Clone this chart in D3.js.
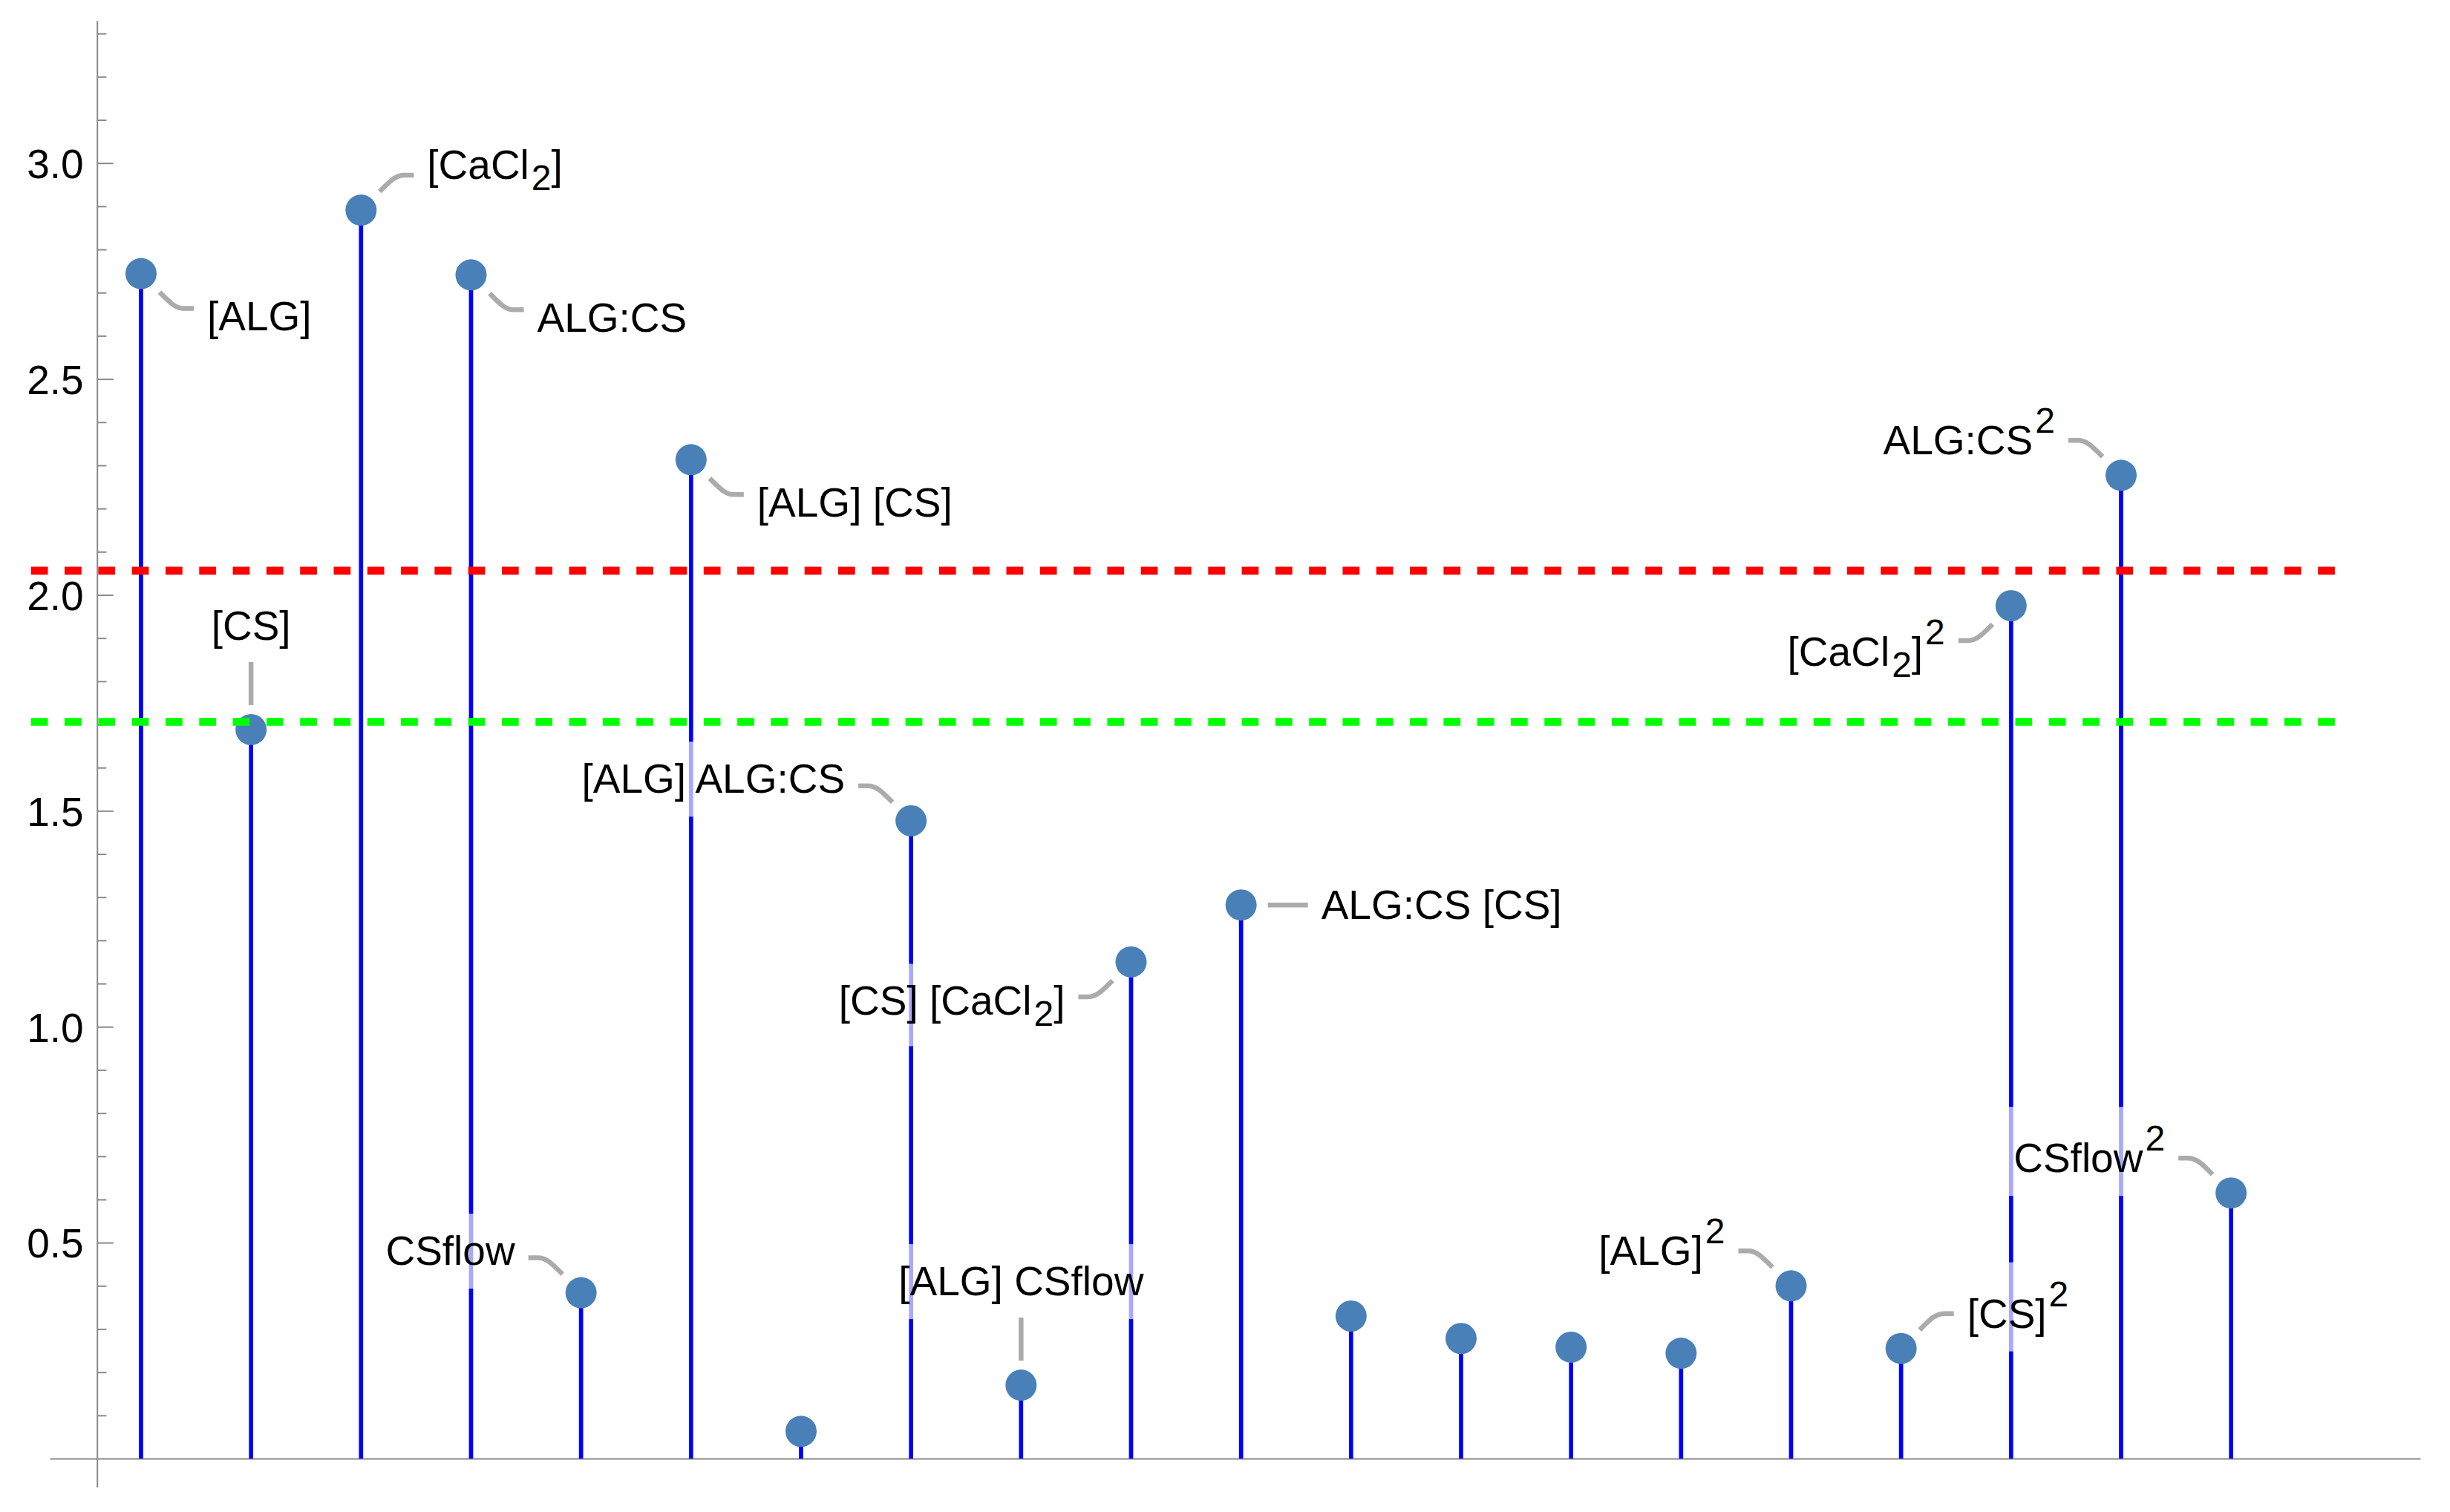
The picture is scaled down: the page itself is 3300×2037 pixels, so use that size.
<!DOCTYPE html>
<html>
<head>
<meta charset="utf-8">
<script src="https://cdn.jsdelivr.net/npm/d3@7"></script>
<style>
  body { margin: 0; background: #fff; }
  text { font-family: "Liberation Sans", Arial, sans-serif; }
</style>
</head>
<body>
<div id="chart"></div>
<script>
// model terms (_x = subscript, ^x = superscript), empty = no callout
var terms = ["[ALG]", "[CS]", "[CaCl_2]", "ALG:CS", "CSflow", "[ALG] [CS]", "",
  "[ALG] ALG:CS", "[ALG] CSflow", "[CS] [CaCl_2]", "ALG:CS [CS]", "", "", "", "",
  "[ALG]^2", "[CS]^2", "[CaCl_2]^2", "ALG:CS^2", "CSflow^2"];

var effects = [2.744, 1.688, 2.891, 2.741, 0.384, 2.313, 0.063, 1.477, 0.170, 1.150,
  1.282, 0.330, 0.278, 0.258, 0.244, 0.400, 0.255, 1.975, 2.277, 0.615];

// where each callout sits around its point
var calloutSide = ["se", "n", "ne", "se", "nw", "se", null, "nw", "n", "sw", "e",
  null, null, null, null, "nw", "ne", "sw", "nw", "nw"];

var criticalValues = [2.056, 1.706];
var criticalColors = ["#ff0000", "#00ff00"];

var yMajorTicks = [0.5, 1.0, 1.5, 2.0, 2.5, 3.0];
var yMinorTicks = d3.range(1, 34).map(function(d) { return d / 10; })
  .filter(function(d) { return yMajorTicks.indexOf(d) < 0; });

(function() {
  var width = 3300, height = 2037;

  var svg = d3.select("#chart")
    .append("svg")
    .attr("width", width)
    .attr("height", height)
    .style("background-color", "#fff");

  var x = d3.scaleLinear().domain([0.17, 21.72]).range([67, 3260]);
  var y = d3.scaleLinear().domain([-0.066, 3.33]).range([2003.4, 27.7]);

  var fontSize = 55;

  // axes
  var yAxis = svg.append("g")
    .attr("class", "axis y-axis")
    .attr("transform", "translate(" + x(0.6) + ",0)")
    .call(d3.axisLeft(y)
      .tickValues(yMajorTicks)
      .tickSizeInner(-22)
      .tickSizeOuter(0)
      .tickPadding(18)
      .tickFormat(d3.format(".1f")));
  yAxis.attr("font-size", fontSize).attr("font-family", null);
  yAxis.selectAll("text").attr("fill", "#000").attr("dy", "0.36em");

  var yMinor = svg.append("g")
    .attr("transform", "translate(" + x(0.6) + ",0)")
    .call(d3.axisLeft(y)
      .tickValues(yMinorTicks)
      .tickSizeInner(-12.7)
      .tickSizeOuter(0)
      .tickFormat(""));
  yMinor.select(".domain").remove();

  var xAxis = svg.append("g")
    .attr("class", "axis x-axis")
    .attr("transform", "translate(0," + y(0) + ")")
    .call(d3.axisBottom(x).tickValues([]).tickSizeOuter(0));

  svg.selectAll(".domain, .tick line")
    .attr("stroke", "#8a8a8a")
    .attr("stroke-width", 2);

  // stems
  svg.append("g")
    .selectAll("line")
    .data(effects)
    .enter()
    .append("line")
    .attr("x1", function(d, i) { return x(i + 1); })
    .attr("x2", function(d, i) { return x(i + 1); })
    .attr("y1", y(0))
    .attr("y2", function(d) { return y(d); })
    .attr("stroke", "#0000ff")
    .attr("stroke-width", 5.7);

  // callouts
  function richText(textSel, s) {
    var cur = 0, buf = "";
    function push(str, target, small) {
      var t = textSel.append("tspan").attr("dy", target - cur).text(str);
      if (small) t.attr("font-size", 48).attr("dx", 3);
      cur = target;
    }
    function flush() {
      if (buf) push(buf, 0, false);
      buf = "";
    }
    for (var k = 0; k < s.length; k++) {
      var c = s[k];
      if (c === "_") { flush(); push(s[k + 1], 15, true); k++; }
      else if (c === "^") { flush(); push(s[k + 1], -29, true); k++; }
      else buf += c;
    }
    flush();
  }

  var labelLayer = svg.append("g").attr("class", "callouts");
  var leaderLayer = svg.append("g");

  terms.forEach(function(term, i) {
    if (!term) return;
    var side = calloutSide[i];
    var px = x(i + 1), py = y(effects[i]);
    var top = term.indexOf("^") >= 0 ? -88 : -69;
    var bottom = term.indexOf("_") >= 0 ? 42 : 32;
    var center = (top + bottom) / 2;
    var path, tx, baseline, anchor;

    if (side === "n") {
      path = "M" + px + "," + (py - 33) + "L" + px + "," + (py - 91);
      tx = px;
      baseline = py - 89 - bottom;
      anchor = "middle";
    } else if (side === "e") {
      path = "M" + (px + 36) + "," + py + "L" + (px + 90) + "," + py;
      tx = px + 108;
      baseline = py - center;
      anchor = "start";
    } else {
      var sx = side.indexOf("e") >= 0 ? 1 : -1;
      var sy = side[0] === "n" ? -1 : 1;
      path = "M" + (px + sx * 25) + "," + (py + sy * 25) +
        "C" + (px + sx * 38) + "," + (py + sy * 38) + " " +
        (px + sx * 46) + "," + (py + sy * 47) + " " +
        (px + sx * 58) + "," + (py + sy * 47) +
        "L" + (px + sx * 71) + "," + (py + sy * 47);
      var endY = py + sy * 47;
      tx = px + sx * 89;
      baseline = sy < 0 ? endY - 9 - center : endY + 11 - center;
      anchor = sx > 0 ? "start" : "end";
    }

    var g = labelLayer.append("g");
    var bg = g.append("rect")
      .attr("fill", "#fff")
      .attr("fill-opacity", 0.66);
    var label = g.append("text")
      .attr("x", tx)
      .attr("y", baseline)
      .attr("text-anchor", anchor)
      .attr("font-size", fontSize)
      .attr("fill", "#000");
    richText(label, term);

    var bb = label.node().getBBox();
    bg.attr("x", bb.x - 10)
      .attr("width", bb.width + 20)
      .attr("y", baseline + top)
      .attr("height", bottom - top);

    leaderLayer.append("path")
      .attr("d", path)
      .attr("fill", "none")
      .attr("stroke", "#ababab")
      .attr("stroke-width", 6.5);
  });

  // points
  svg.append("g")
    .selectAll("circle")
    .data(effects)
    .enter()
    .append("circle")
    .attr("cx", function(d, i) { return x(i + 1); })
    .attr("cy", function(d) { return y(d); })
    .attr("r", 21)
    .attr("fill", "#4a80b8");

  // critical value lines on top
  svg.append("g")
    .selectAll("line")
    .data(criticalValues)
    .enter()
    .append("line")
    .attr("x1", x(0))
    .attr("x2", x(21))
    .attr("y1", function(d) { return y(d); })
    .attr("y2", function(d) { return y(d); })
    .attr("stroke", function(d, i) { return criticalColors[i]; })
    .attr("stroke-width", 10.7)
    .attr("stroke-dasharray", "22.7,22.6");
})();
</script>
</body>
</html>
